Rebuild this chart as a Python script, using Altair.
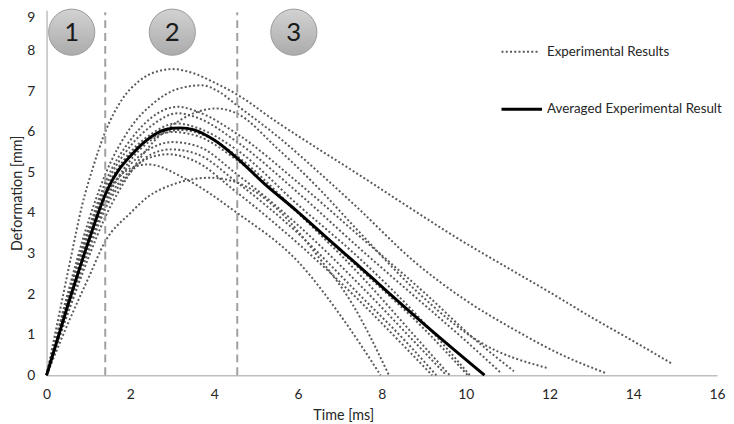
import altair as alt
import pandas as pd

# ---------------- data ----------------
time_ticks = list(range(0, 17, 2))
defo_ticks = list(range(0, 10))

exp_a_t = [0, 0.3, 0.57, 0.85, 1.1, 1.4, 1.8, 2.2, 2.6, 3.0, 3.5, 4.0, 4.55, 5.5, 6.5, 7.4, 8.8, 9.74, 11, 12, 13, 14, 14.9]
exp_a_y = [0, 1.5, 2.85, 4.2, 5.1, 6.0, 6.8, 7.25, 7.48, 7.55, 7.45, 7.22, 6.92, 6.24, 5.57, 4.98, 4.04, 3.42, 2.65, 2.05, 1.43, 0.84, 0.3]

exp_b_t = [0, 0.5, 1.0, 1.4, 2.0, 2.6, 3.1, 3.7, 4.1, 4.55, 5.5, 6.5, 7.4, 8.8, 10, 11.15, 12.34, 13.35]
exp_b_y = [0, 2.0, 3.8, 4.95, 6.1, 6.75, 7.05, 7.15, 7.0, 6.65, 5.9, 5.0, 4.15, 2.78, 1.85, 1.13, 0.48, 0.05]

exp_c_t = [0, 0.5, 1.0, 1.4, 2.0, 2.5, 3.13, 3.6, 4.55, 6.0, 7.5, 9.0, 10.2, 11.15]
exp_c_y = [0, 1.9, 3.6, 4.75, 5.8, 6.35, 6.62, 6.5, 5.95, 4.75, 3.4, 2.05, 0.9, 0.1]

exp_d_t = [0, 0.5, 1.0, 1.4, 2.0, 2.5, 3.2, 4.07, 4.55, 5.5, 6.5, 7.4, 8.8, 10.37, 11.94]
exp_d_y = [0, 1.5, 2.9, 3.9, 5.0, 5.7, 6.3, 6.58, 6.45, 5.6, 4.6, 3.6, 2.1, 0.8, 0.18]

exp_e_t = [0, 0.5, 1.0, 1.4, 2.0, 2.5, 3.13, 3.6, 4.55, 6.0, 7.5, 9.0, 10.0, 10.85]
exp_e_y = [0, 1.85, 3.5, 4.65, 5.65, 6.15, 6.46, 6.35, 5.75, 4.5, 3.1, 1.75, 0.85, 0.05]

exp_f_t = [0, 0.5, 1.0, 1.4, 2.0, 2.5, 3.1, 3.6, 4.55, 6.0, 7.5, 9.0, 10.1]
exp_f_y = [0, 1.8, 3.45, 4.55, 5.5, 5.95, 6.21, 6.1, 5.55, 4.2, 2.85, 1.3, 0]

exp_g_t = [0, 0.5, 1.0, 1.4, 2.0, 2.5, 3.0, 3.6, 4.55, 6.0, 7.5, 9.0, 10.05]
exp_g_y = [0, 1.75, 3.35, 4.5, 5.45, 5.85, 6.0, 5.9, 5.3, 4.0, 2.6, 1.15, 0]

exp_h_t = [0, 0.5, 1.0, 1.4, 2.0, 2.5, 3.2, 3.8, 4.55, 6.0, 7.5, 8.8, 9.62]
exp_h_y = [0, 1.65, 3.2, 4.3, 5.3, 5.8, 6.05, 5.9, 5.4, 4.0, 2.45, 0.95, 0]

exp_i_t = [0, 0.5, 1.0, 1.4, 2.0, 2.5, 3.0, 3.6, 4.55, 6.0, 7.5, 8.8, 9.54]
exp_i_y = [0, 1.7, 3.25, 4.3, 5.2, 5.6, 5.75, 5.65, 4.95, 3.7, 2.2, 0.8, 0]

exp_j_t = [0, 0.5, 1.0, 1.4, 2.0, 2.5, 2.97, 3.6, 4.55, 6.0, 7.5, 8.6, 9.3]
exp_j_y = [0, 1.6, 3.05, 4.1, 5.0, 5.45, 5.57, 5.45, 4.75, 3.5, 1.95, 0.8, 0]

exp_k_t = [0, 0.5, 1.0, 1.4, 2.0, 2.5, 2.9, 3.5, 4.55, 6.0, 7.5, 8.5, 9.2]
exp_k_y = [0, 1.7, 3.15, 4.2, 5.05, 5.38, 5.45, 5.3, 4.5, 3.25, 1.8, 0.75, 0]

exp_l_t = [0, 0.5, 1.0, 1.5, 2.0, 2.42, 3.3, 4.55, 6.0, 7.2, 7.97]
exp_l_y = [0, 1.9, 3.6, 4.6, 5.1, 5.2, 4.85, 4.0, 2.8, 1.2, 0]

exp_m_t = [0, 0.5, 1.0, 1.4, 2.0, 2.42, 3.0, 3.9, 4.55, 5.5, 6.5, 7.3, 8.17]
exp_m_y = [0, 1.25, 2.4, 3.3, 4.0, 4.4, 4.7, 4.87, 4.75, 4.1, 2.9, 1.75, 0]

avg_t = [0, 0.5, 1.0, 1.4, 2.18, 2.6, 3.0, 3.2, 3.52, 4.0, 4.55, 5.2, 5.96, 6.75, 7.5, 8.09, 9.3, 10.45]
avg_y = [0, 1.7, 3.3, 4.45, 5.6, 5.95, 6.09, 6.1, 6.05, 5.8, 5.35, 4.72, 4.06, 3.33, 2.65, 2.1, 1.0, 0]

phase_bounds = [1.4, 4.55]
phase_labels = ["1", "2", "3"]
phase_centers = [0.6, 3.0, 5.9]

legend_labels = ["Experimental Results", "Averaged Experimental Result"]

# ---------------- tables ----------------
exp_series = {
    "A": (exp_a_t, exp_a_y), "B": (exp_b_t, exp_b_y), "C": (exp_c_t, exp_c_y),
    "D": (exp_d_t, exp_d_y), "E": (exp_e_t, exp_e_y), "F": (exp_f_t, exp_f_y),
    "G": (exp_g_t, exp_g_y), "H": (exp_h_t, exp_h_y), "I": (exp_i_t, exp_i_y),
    "J": (exp_j_t, exp_j_y), "K": (exp_k_t, exp_k_y), "L": (exp_l_t, exp_l_y),
    "M": (exp_m_t, exp_m_y),
}
rows = []
for name, (ts, ys) in exp_series.items():
    for i, (t, y) in enumerate(zip(ts, ys)):
        rows.append({"series": name, "i": i, "t": t, "y": y})
exp_df = pd.DataFrame(rows)
avg_df = pd.DataFrame({"t": avg_t, "y": avg_y, "i": range(len(avg_t))})
bounds_df = pd.DataFrame({"t": phase_bounds})
phase_df = pd.DataFrame({"t": phase_centers, "label": phase_labels})
leg1_df = pd.DataFrame({"label": [legend_labels[0]]})
leg2_df = pd.DataFrame({"label": [legend_labels[1]]})

FONT = "Lato"
TXT = "#262626"
DOT = "#595959"

xscale = alt.Scale(domain=[0, 16], nice=False, zero=False)
yscale = alt.Scale(domain=[0, 9], nice=False)

x_enc = alt.X("t:Q", scale=xscale, axis=alt.Axis(
    values=time_ticks, title="Time [ms]", grid=False, ticks=False,
    domainColor="#bfbfbf", domainWidth=1.5, labelFlush=False,
    labelFont=FONT, labelFontSize=14, labelColor=TXT, labelPadding=13,
    titleFont=FONT, titleFontSize=14.5, titleFontWeight="normal", titleColor=TXT,
    titleX=300, titleY=41, titleBaseline="middle"))
y_enc = alt.Y("y:Q", scale=yscale, axis=alt.Axis(
    values=defo_ticks, title="Deformation [mm]", grid=False, ticks=False,
    domainColor="#bfbfbf", domainWidth=1.5,
    labelFont=FONT, labelFontSize=14, labelColor=TXT, labelPadding=12,
    labelBaseline=alt.condition("datum.value == 9", alt.value("top"), alt.value("middle")),
    titleFont=FONT, titleFontSize=14.5, titleFontWeight="normal", titleColor=TXT,
    titlePadding=2))

bounds = alt.Chart(bounds_df).mark_rule(
    color="#a0a0a0", strokeWidth=2, strokeDash=[8, 5]
).encode(x=alt.X("t:Q", scale=xscale), y=alt.datum(0), y2=alt.datum(8.95))

exp_lines = alt.Chart(exp_df).mark_line(
    interpolate="monotone", color=DOT, strokeWidth=2, strokeDash=[2, 2.3]
).encode(x=x_enc, y=y_enc, detail="series:N", order="i:Q")

avg_line = alt.Chart(avg_df).mark_line(
    interpolate="monotone", color="#000000", strokeWidth=3
).encode(x=alt.X("t:Q", scale=xscale), y=alt.Y("y:Q", scale=yscale), order="i:Q")

grad = alt.LinearGradient(
    gradient="linear",
    stops=[alt.GradientStop(color="#d2d2d2", offset=0),
           alt.GradientStop(color="#ababab", offset=1)],
    x1=0, x2=0, y1=0, y2=1)

circles = alt.Chart(phase_df).mark_point(
    shape="circle", filled=True, size=2180, fill=grad, opacity=1,
    stroke="#9a9a9a", strokeWidth=1
).encode(x=alt.X("t:Q", scale=xscale), y=alt.datum(8.46))

circle_txt = alt.Chart(phase_df).mark_text(
    font=FONT, fontSize=26, color="#1a1a1a", baseline="middle", align="center", dy=1
).encode(x=alt.X("t:Q", scale=xscale), y=alt.datum(8.46), text="label:N")

leg1_line = alt.Chart(leg1_df).mark_rule(
    color=DOT, strokeWidth=2, strokeDash=[2, 2.3]
).encode(x=alt.value(460), x2=alt.value(498), y=alt.value(42))
leg1_txt = alt.Chart(leg1_df).mark_text(
    font=FONT, fontSize=13.5, color=TXT, align="left", baseline="middle"
).encode(x=alt.value(506), y=alt.value(42), text="label:N")
leg2_line = alt.Chart(leg2_df).mark_rule(
    color="#000000", strokeWidth=3
).encode(x=alt.value(460), x2=alt.value(501), y=alt.value(100))
leg2_txt = alt.Chart(leg2_df).mark_text(
    font=FONT, fontSize=13.5, color=TXT, align="left", baseline="middle"
).encode(x=alt.value(506), y=alt.value(100), text="label:N")

chart = alt.layer(
    exp_lines, bounds, avg_line, circles, circle_txt,
    leg1_line, leg1_txt, leg2_line, leg2_txt
).properties(
    width=678, height=369,
    padding={"left": 39, "top": 0, "right": 9, "bottom": 47},
    autosize=alt.AutoSizeParams(type="none"),
    background="white",
).configure_view(stroke=None)

chart.save("out.html", embed_options={"renderer": "svg", "actions": False})
